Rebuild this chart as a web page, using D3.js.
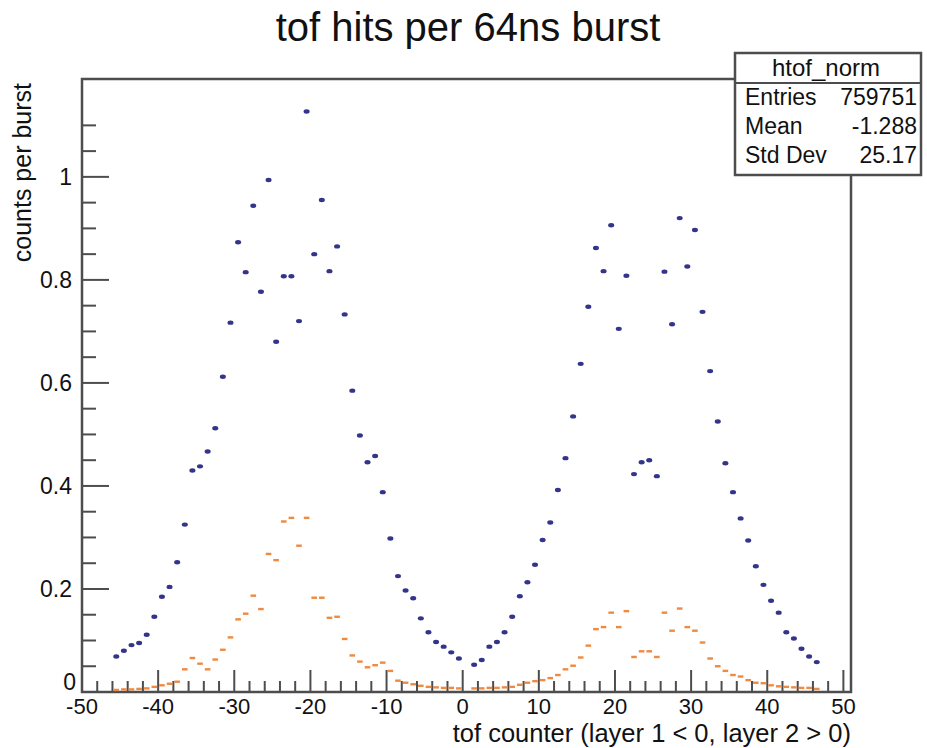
<!DOCTYPE html>
<html>
<head>
<meta charset="utf-8">
<script src="https://cdn.jsdelivr.net/npm/d3@7"></script>
<style>
  body { margin: 0; background: #fff; }
  text { font-family: "Liberation Sans", Arial, sans-serif; fill: #111; }
</style>
</head>
<body>
<svg id="chart" width="927" height="748"></svg>
<script>
// tof counters: layer 1 is -46..-1, layer 2 is 1..46 (bin centre = counter + 0.5)
const layer1Counters = d3.range(-46, 0);
const layer2Counters = d3.range(1, 47);

// blue series (all hits)
const blueLayer1 = [0.069, 0.080, 0.091, 0.095, 0.111, 0.146, 0.185, 0.204, 0.252, 0.325,
    0.430, 0.438, 0.467, 0.512, 0.612, 0.717, 0.873, 0.815, 0.944, 0.777,
    0.994, 0.680, 0.807, 0.807, 0.720, 1.127, 0.850, 0.955, 0.817, 0.865,
    0.733, 0.585, 0.498, 0.446, 0.458, 0.388, 0.298, 0.225, 0.197, 0.182,
    0.143, 0.116, 0.097, 0.088, 0.077, 0.065];
const blueLayer2 = [0.053, 0.062, 0.088, 0.097, 0.116, 0.146, 0.186, 0.213, 0.247, 0.295,
    0.329, 0.392, 0.454, 0.535, 0.637, 0.748, 0.862, 0.817, 0.906, 0.705,
    0.808, 0.423, 0.446, 0.450, 0.419, 0.816, 0.714, 0.920, 0.826, 0.897,
    0.738, 0.623, 0.525, 0.444, 0.388, 0.337, 0.294, 0.244, 0.208, 0.177,
    0.154, 0.116, 0.104, 0.084, 0.069, 0.058];

// orange series
const orangeLayer1 = [0.004, 0.005, 0.005, 0.006, 0.007, 0.010, 0.013, 0.016, 0.020, 0.044,
    0.066, 0.055, 0.044, 0.063, 0.082, 0.106, 0.141, 0.152, 0.187, 0.161,
    0.268, 0.256, 0.331, 0.338, 0.284, 0.338, 0.183, 0.183, 0.144, 0.146,
    0.103, 0.071, 0.059, 0.048, 0.052, 0.057, 0.041, 0.022, 0.018, 0.015,
    0.012, 0.010, 0.009, 0.008, 0.008, 0.007];
const orangeLayer2 = [0.007, 0.007, 0.008, 0.008, 0.009, 0.010, 0.014, 0.018, 0.021, 0.023,
    0.027, 0.033, 0.044, 0.051, 0.067, 0.090, 0.122, 0.126, 0.154, 0.126,
    0.157, 0.068, 0.079, 0.079, 0.068, 0.154, 0.119, 0.162, 0.126, 0.119,
    0.096, 0.065, 0.050, 0.041, 0.033, 0.030, 0.023, 0.018, 0.017, 0.013,
    0.011, 0.010, 0.009, 0.008, 0.008, 0.006];

const xTickValues = [-50, -40, -30, -20, -10, 0, 10, 20, 30, 40, 50];
const yTickValues = [0, 0.2, 0.4, 0.6, 0.8, 1];

const statsTitle = "htof_norm";
const statsRows = [["Entries", "759751"], ["Mean", "-1.288"], ["Std Dev", "25.17"]];

let svg = d3.select("#chart"),
    frame = {left: 82, right: 851, top: 79, bottom: 692};

let scaleX = d3.scaleLinear().domain([-50, 51]).range([frame.left, frame.right]);
let scaleY = d3.scaleLinear().domain([0, 1.19]).range([frame.bottom, frame.top]);

const axisColor = "#4d4d4d";

// title
svg.append("text")
    .attr("x", 468).attr("y", 41)
    .attr("text-anchor", "middle")
    .style("font-size", "40px")
    .text("tof hits per 64ns burst");

// frame
svg.append("rect")
    .attr("x", frame.left).attr("y", frame.top)
    .attr("width", frame.right - frame.left)
    .attr("height", frame.bottom - frame.top)
    .attr("fill", "none")
    .attr("stroke", axisColor)
    .attr("stroke-width", 2.5);

// x axis ticks (major every 10, minor every 2)
let gx = svg.append("g");
gx.selectAll(".xt")
    .data(d3.range(-50, 51, 2))
    .enter().append("line")
    .attr("x1", d => scaleX(d)).attr("x2", d => scaleX(d))
    .attr("y1", frame.bottom)
    .attr("y2", d => frame.bottom - (d % 10 === 0 ? 22 : 11))
    .attr("stroke", axisColor).attr("stroke-width", 2);
gx.selectAll(".xl")
    .data(xTickValues)
    .enter().append("text")
    .attr("x", d => scaleX(d))
    .attr("y", frame.bottom + 22)
    .attr("text-anchor", "middle")
    .style("font-size", "22px")
    .text(d => d);

// y axis ticks (major every 0.2, minor every 0.05)
let gy = svg.append("g");
gy.selectAll(".yt")
    .data(d3.range(0, 23).map(i => i * 0.05))
    .enter().append("line")
    .attr("y1", d => scaleY(d)).attr("y2", d => scaleY(d))
    .attr("x1", frame.left)
    .attr("x2", (d, i) => frame.left + (i % 4 === 0 ? 27 : 14))
    .attr("stroke", axisColor).attr("stroke-width", 2);
gy.selectAll(".yl")
    .data(yTickValues)
    .enter().append("text")
    .attr("x", d => d === 0 ? frame.left - 6 : frame.left - 10)
    .attr("y", d => d === 0 ? scaleY(d) - 2 : scaleY(d) + 8)
    .attr("text-anchor", "end")
    .style("font-size", "23px")
    .text(d => d);

// axis titles
svg.append("text")
    .attr("x", frame.right)
    .attr("y", 742)
    .attr("text-anchor", "end")
    .style("font-size", "25.5px")
    .text("tof counter (layer 1 < 0, layer 2 > 0)");
svg.append("text")
    .attr("transform", "translate(31," + (frame.top + 4) + ") rotate(-90)")
    .attr("text-anchor", "end")
    .style("font-size", "25px")
    .text("counts per burst");

// data points
const counters = layer1Counters.concat(layer2Counters);
const orangeData = counters.map((c, i) => ({x: c + 0.5, v: orangeLayer1.concat(orangeLayer2)[i]}));
const blueData = counters.map((c, i) => ({x: c + 0.5, v: blueLayer1.concat(blueLayer2)[i]}));

svg.append("g").selectAll("rect")
    .data(orangeData)
    .enter().append("rect")
    .attr("x", d => scaleX(d.x) - 2.8)
    .attr("y", d => scaleY(d.v) - 1.2)
    .attr("width", 5.6).attr("height", 2.4)
    .attr("fill", "#ef8a43");

svg.append("g").selectAll("ellipse")
    .data(blueData)
    .enter().append("ellipse")
    .attr("cx", d => scaleX(d.x))
    .attr("cy", d => scaleY(d.v))
    .attr("rx", 3).attr("ry", 2.2)
    .attr("fill", "#34348a");

// stats box
let box = {x: 735, y: 53, w: 186, h: 122};
let gs = svg.append("g");
gs.append("rect")
    .attr("x", box.x).attr("y", box.y)
    .attr("width", box.w).attr("height", box.h)
    .attr("fill", "#fff")
    .attr("stroke", axisColor).attr("stroke-width", 2.5);
gs.append("line")
    .attr("x1", box.x).attr("x2", box.x + box.w)
    .attr("y1", box.y + 30).attr("y2", box.y + 30)
    .attr("stroke", axisColor).attr("stroke-width", 2);
gs.append("text")
    .attr("x", box.x + box.w / 2 - 2).attr("y", box.y + 23)
    .attr("text-anchor", "middle")
    .style("font-size", "24px")
    .text(statsTitle);
statsRows.forEach((r, i) => {
    gs.append("text")
        .attr("x", box.x + 10).attr("y", box.y + 52 + i * 29)
        .style("font-size", "23px")
        .text(r[0]);
    gs.append("text")
        .attr("x", box.x + box.w - 4).attr("y", box.y + 52 + i * 29)
        .attr("text-anchor", "end")
        .style("font-size", "23px")
        .text(r[1]);
});
</script>
</body>
</html>
